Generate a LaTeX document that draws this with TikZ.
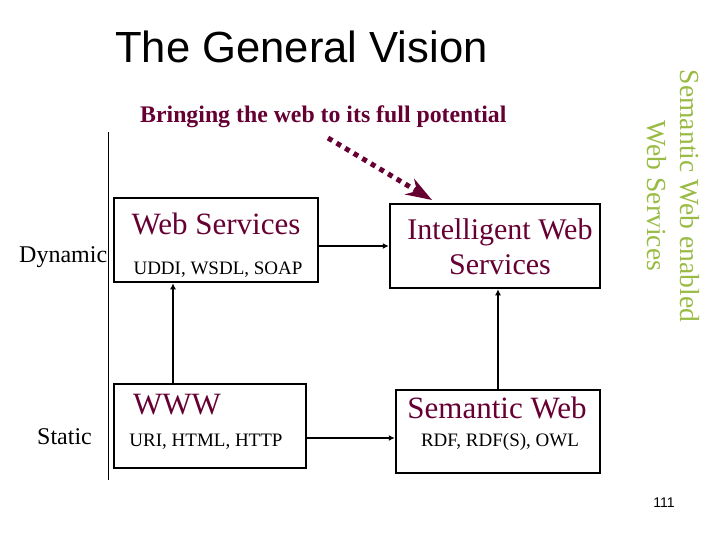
\documentclass[tikz,border=0pt]{standalone}
\usepackage{fontspec}
\setmainfont{Liberation Serif}
\setsansfont{Liberation Sans}
\usepackage{tikz}
\usetikzlibrary{arrows.meta}
\definecolor{maroon}{RGB}{102,0,51}
\definecolor{leaf}{RGB}{153,187,68}
\begin{document}
\begin{tikzpicture}[x=1pt,y=-1pt,
	box/.style={draw,line width=2.5pt,inner sep=0pt},
	conn/.style={line width=2pt,-{Latex[length=6pt,width=6pt]}},
	big/.style={text=maroon,font=\fontsize{31}{35}\selectfont,inner sep=0pt},
	small/.style={font=\fontsize{19}{22}\selectfont,inner sep=0pt},
	side/.style={font=\fontsize{24}{28}\selectfont,inner sep=0pt}]
	\useasboundingbox (0,0) rectangle (720,540);
	\node[anchor=base west,inner sep=0pt,font=\sffamily\fontsize{43.6}{48}\selectfont] (title) at (115,63) {The General Vision};
	\node[anchor=base west,inner sep=0pt,text=maroon,font=\bfseries\fontsize{23.8}{28}\selectfont] (sub) at (140,123) {Bringing the web to its full potential};
	\draw[line width=1pt] (108,132) -- (108,480);
	\node[side,anchor=base west] (dyn) at (19,262) {Dynamic};
	\node[side,anchor=base west] (stat) at (37,444) {Static};
	% boxes
	\node[box,minimum width=204pt,minimum height=84pt] (ws) at (216,240) {};
	\node[box,minimum width=192pt,minimum height=84pt] (www) at (210,426) {};
	\node[box,minimum width=210pt,minimum height=84pt] (intel) at (495,246) {};
	\node[box,minimum width=204pt,minimum height=83pt] (sem) at (498,431.5) {};
	\node[big,anchor=base] (wst) at (216,235) {Web Services};
	\node[small,anchor=base] (wss) at (218,274) {UDDI, WSDL, SOAP};
	\node[big,anchor=base] (wwwt) at (177,414) {WWW};
	\node[small,anchor=base] (wwws) at (206,446) {URI, HTML, HTTP};
	\node[big,align=center,font=\fontsize{30}{35}\selectfont] (intelt) at (500,247) {Intelligent Web\\Services};
	\node[big,anchor=base] (semt) at (497,418) {Semantic Web};
	\node[small,anchor=base] (sems) at (500,446) {RDF, RDF(S), OWL};
	% connectors
	\draw[conn] ([xshift=-37pt]www.north) -- ([xshift=-37pt]www.north |- ws.south);
	\draw[conn] ([yshift=-6pt]ws.east) -- ([yshift=-6pt]ws.east -| intel.west);
	\draw[conn] ([yshift=-12pt]www.east) -- ([yshift=-12pt]www.east -| sem.west);
	\draw[conn] (sem.north) -- (sem.north |- intel.south);
	\coordinate (from) at (328,138);
	\coordinate (to) at (432,200);
	\draw[maroon,line width=5pt,dash pattern=on 5pt off 5pt,-{Stealth[length=26pt,width=18pt]}] (from) -- (to);
	\node[rotate=-90,align=center,text=leaf,inner sep=0pt,font=\fontsize{27.6}{33}\selectfont] (sw) at (673,196) {Semantic Web enabled\\Web Services};
	\node[anchor=base,inner sep=0pt,font=\sffamily\fontsize{14}{16}\selectfont] (page) at (664,507) {111};
\end{tikzpicture}
\end{document}
